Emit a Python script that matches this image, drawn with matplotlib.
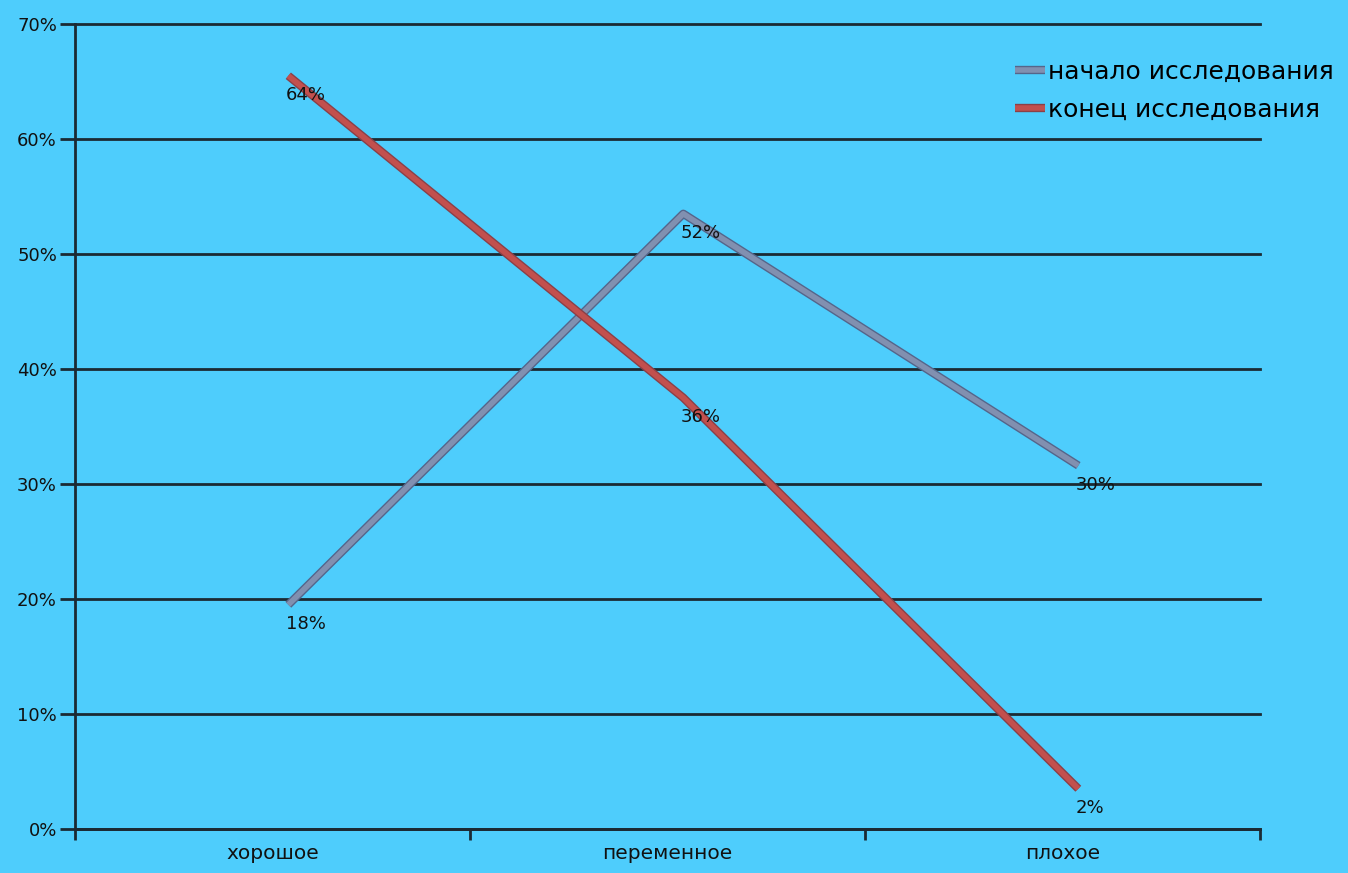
import numpy as np
import matplotlib.pyplot as plt
import matplotlib.patheffects as pe
from matplotlib.ticker import FixedLocator, NullFormatter

# Data
categories = ['хорошое', 'переменное', 'плохое']
start_values = [19.5, 53.5, 31.6]     # plotted positions, %
end_values = [65.5, 37.5, 3.5]
start_labels = ['18%', '52%', '30%']  # labels as printed on the chart
end_labels = ['64%', '36%', '2%']
y_ticks = [0, 10, 20, 30, 40, 50, 60, 70]

bg = '#4ecdfc'
blue_col = '#8190b0'
red_col = '#c2504e'
ink = '#1b2a33'

plt.rcParams['font.family'] = ['DejaVu Sans']

fig = plt.figure(figsize=(13.48, 8.73), dpi=100, facecolor=bg)
ax = fig.add_axes([75/1348, 1-829/873, (1260-75)/1348, (829-24)/873])
ax.set_facecolor(bg)

x = np.arange(len(categories))
xs = x + 0.04  # points sit a little right of the category centres

# Series lines with darker outline
ax.plot(xs, start_values, color=blue_col, linewidth=4, solid_capstyle='butt',
        path_effects=[pe.Stroke(linewidth=6, foreground='#55658a'), pe.Normal()],
        label='начало исследования', zorder=3)
ax.plot(xs, end_values, color=red_col, linewidth=4, solid_capstyle='butt',
        path_effects=[pe.Stroke(linewidth=6, foreground='#8b4048'), pe.Normal()],
        label='конец исследования', zorder=3)

# Data labels below-right of the points
for xi, yi, lab in zip(xs, start_values, start_labels):
    ax.annotate(lab, (xi, yi), xytext=(-2, -14), textcoords='offset points',
                ha='left', va='center', fontsize=13, color='#111111', zorder=4)
for xi, yi, lab in zip(xs, end_values, end_labels):
    ax.annotate(lab, (xi, yi), xytext=(-2, -14), textcoords='offset points',
                ha='left', va='center', fontsize=13, color='#111111', zorder=4)

# Axes styling
ax.set_xlim(-0.5, 2.5)
ax.set_ylim(0, 70)
ax.set_yticks(y_ticks)
ax.set_yticklabels([f'{v}%' for v in y_ticks], fontsize=13, color='#111111')
ax.xaxis.set_major_locator(FixedLocator([-0.5, 0.5, 1.5, 2.5]))
ax.xaxis.set_major_formatter(NullFormatter())
ax.xaxis.set_minor_locator(FixedLocator(x))
ax.set_xticklabels(categories, minor=True, fontsize=14.5, color='#111111')
ax.tick_params(axis='x', which='major', length=8, width=2, color=ink, direction='out')
ax.tick_params(axis='x', which='minor', length=0, pad=11)
ax.tick_params(axis='y', length=11, width=2, color=ink, direction='out', pad=2)

for s in ['top', 'right']:
    ax.spines[s].set_visible(False)
for s in ['left', 'bottom']:
    ax.spines[s].set_color(ink)
    ax.spines[s].set_linewidth(2)

ax.yaxis.grid(True, color=ink, linewidth=2)
ax.set_axisbelow(True)
for gl in ax.get_ygridlines():
    gl.set_clip_on(False)

fig.legend(loc='upper left', bbox_to_anchor=(1005/1348, 1-50/873), frameon=False,
           fontsize=18, handlelength=1.2, handletextpad=0.12, labelspacing=0.55,
           borderaxespad=0)

fig.savefig('out.png', dpi=100, facecolor=bg)
